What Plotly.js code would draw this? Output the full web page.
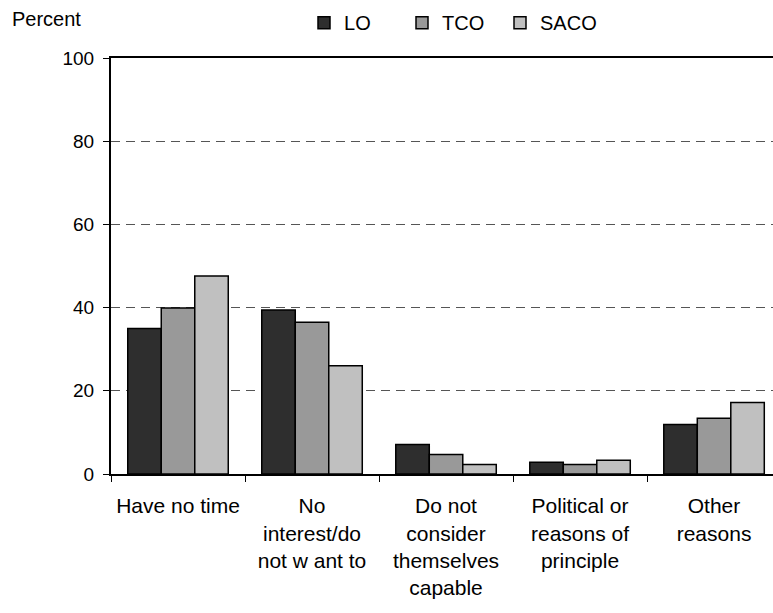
<!DOCTYPE html>
<html>
<head>
<meta charset="utf-8">
<script src="https://cdn.plot.ly/plotly-3.0.1.min.js"></script>
<style>html,body{margin:0;padding:0;background:#fff;}#chart{width:773px;height:613px;}</style>
</head>
<body>
<div id="chart"></div>
<script>
const categories = [
  "Have no time",
  "No<br>interest/do<br>not w ant to",
  "Do not<br>consider<br>themselves<br>capable",
  "Political or<br>reasons of<br>principle",
  "Other<br>reasons"
];
const seriesNames = ["LO", "TCO", "SACO"];
const LO   = [35.0, 39.4, 7.1, 2.8, 11.9];
const TCO  = [39.9, 36.5, 4.7, 2.3, 13.4];
const SACO = [47.6, 26.0, 2.3, 3.3, 17.2];
const yTicks = [0, 20, 40, 60, 80, 100];

const colors = ["#2e2e2e", "#999999", "#c0c0c0"];
const seriesValues = [LO, TCO, SACO];
const font = "Liberation Sans, Arial, sans-serif";

const traces = seriesValues.map((vals, i) => ({
  type: "bar",
  name: seriesNames[i],
  x: categories,
  y: vals,
  marker: {color: colors[i], line: {color: "#000", width: 1.5}},
  hoverinfo: "skip"
}));

const layout = {
  width: 773, height: 613,
  margin: {l: 111, r: 0, t: 58, b: 139, pad: 0},
  paper_bgcolor: "#fff", plot_bgcolor: "#fff",
  font: {family: font, size: 20, color: "#000"},
  barmode: "group", bargap: 0.25, bargroupgap: 0,
  showlegend: true,
  legend: {orientation: "h", x: 0.5136, xanchor: "center", y: 1.085, yanchor: "middle",
           font: {family: font, size: 20, color: "#000"}, itemwidth: 30,
           entrywidth: 53, entrywidthmode: "pixels", traceorder: "normal"},
  xaxis: {
    type: "category", range: [-0.5, 4.44], fixedrange: true,
    showline: true, linecolor: "#000", linewidth: 2, mirror: true,
    ticks: "outside", tickson: "boundaries", ticklen: 6, tickcolor: "#000", tickwidth: 1,
    showgrid: false, tickangle: 0, ticklabelstandoff: 12,
    tickfont: {family: font, size: 21, color: "#000"}
  },
  yaxis: {
    range: [0, 100], tickvals: yTicks, ticktext: yTicks.map(String), fixedrange: true,
    showline: true, linecolor: "#000", linewidth: 2, mirror: false,
    ticks: "outside", ticklen: 6, tickcolor: "#000", tickwidth: 1,
    showgrid: true, gridcolor: "#555", gridwidth: 1, griddash: "9px,6px",
    zeroline: false, ticklabelstandoff: 5,
    tickfont: {family: font, size: 19, color: "#000"}
  },
  annotations: [{
    text: "Percent", xref: "paper", yref: "paper", x: -0.1526, y: 1.094,
    xanchor: "left", yanchor: "middle", showarrow: false,
    font: {family: font, size: 20, color: "#000"}
  }]
};

Plotly.newPlot("chart", traces, layout, {displayModeBar: false, staticPlot: true});
</script>
</body>
</html>
